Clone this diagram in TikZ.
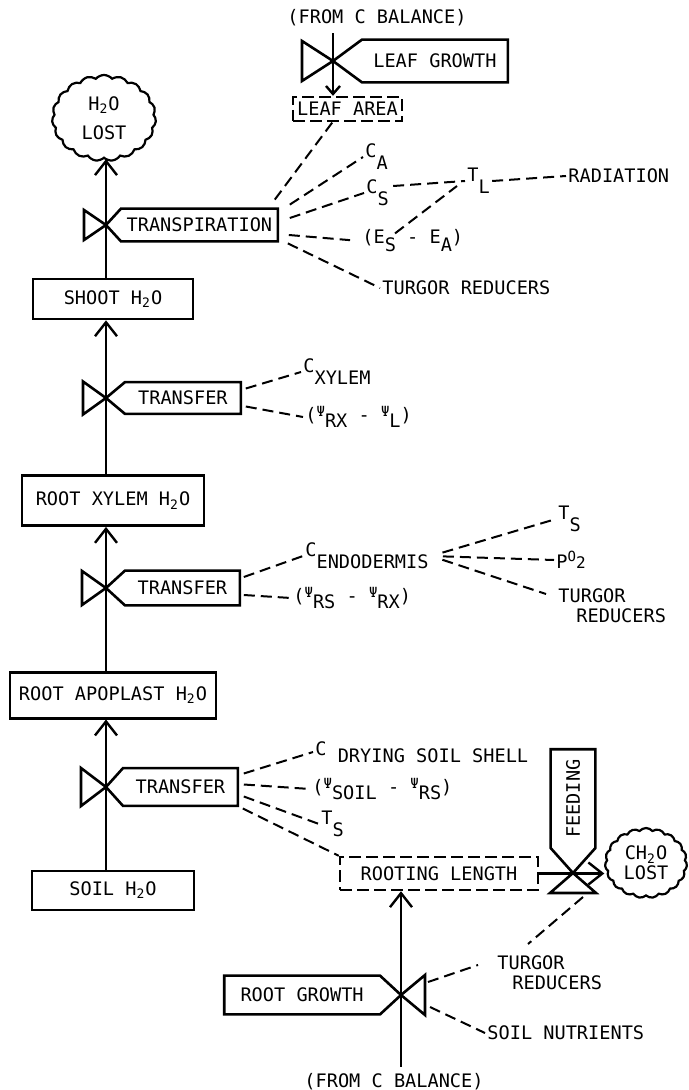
\documentclass[tikz,border=0pt]{standalone}
\usepackage{fontspec}
\newfontfamily\leroy{DejaVu Sans Mono}
\usetikzlibrary{arrows.meta}
\usetikzlibrary{shapes.symbols}
\usetikzlibrary{positioning}
\tikzset{%
  stock/.style = {rectangle, draw, line width=1.3pt, inner sep=0pt},
  aux/.style = {rectangle, draw, line width=1.2pt, dash pattern=on 6pt off 2.5pt, inner sep=0pt},
  rate/.style = {rectangle, inner sep=0pt},
  ratebox/.style = {line width=1.3pt, line join=miter},
  valve/.style = {line width=1.3pt, line join=miter},
  lost/.style = {cloud, cloud puffs=19, cloud puff arc=100, cloud ignores aspect, draw, line width=1.1pt, inner sep=0pt, align=center},
  lbl/.style = {inner sep=1pt, anchor=west},
  flow/.style = {line width=1.2pt, -{Straight Barb[length=7pt, width=11pt]}},
  info/.style = {line width=1pt, dash pattern=on 5.5pt off 3pt}
}
\newcommand{\lowsub}[2]{\raisebox{3pt}{#1}\raisebox{-3pt}{#2}}
\newcommand{\psisub}[1]{\raisebox{2.5pt}{\scriptsize Ψ}\raisebox{-3pt}{#1}}

\begin{document}
\begin{tikzpicture}[x=0.5pt, y=-0.5pt, font=\leroy\fontsize{9.3pt}{10pt}\selectfont]
  \useasboundingbox (0,0) rectangle (689,1090);

  % valve centres
  \coordinate (v1) at (106,225);
  \coordinate (v2) at (106,398);
  \coordinate (v3) at (106,588);
  \coordinate (v4) at (106,787);
  \coordinate (lg) at (333,61);
  \coordinate (v5) at (573,873);
  \coordinate (v6) at (401,995);

  % water stocks
  \node (shoot) [stock, minimum width=80pt, minimum height=20pt] at (113,299) {SHOOT H\textsubscript{2}O};
  \node (rootxyl) [stock, minimum width=91pt, minimum height=25pt, below=77pt of shoot] {ROOT XYLEM H\textsubscript{2}O};
  \node (apoplast) [stock, minimum width=103pt, minimum height=23pt, below=72pt of rootxyl] {ROOT APOPLAST H\textsubscript{2}O};
  \node (soil) [stock, minimum width=81pt, minimum height=19.5pt, below=75pt of apoplast] {SOIL H\textsubscript{2}O};
  \node (h2olost) [lost, minimum width=52pt, minimum height=43pt] at (104,118) {H\textsubscript{2}O\\[4.5pt]LOST};
  \node (ch2olost) [lost, minimum width=41pt, minimum height=35pt] at (646,863) {CH\textsubscript{2}O\\LOST};
  \node (leafarea) [aux, minimum width=54.5pt, minimum height=12pt] at (347.5,109) {LEAF AREA};
  \node (rooting) [aux, minimum width=99pt, minimum height=16.5pt] at (439,873.5) {ROOTING LENGTH};

  % rates
  \node (transp) [rate, minimum width=78pt, minimum height=16pt, right=7.5pt of v1] {TRANSPIRATION};
  \node (xferxyl) [rate, minimum width=57.5pt, minimum height=15.5pt, right=9.5pt of v2] {TRANSFER};
  \node (xferendo) [rate, minimum width=57pt, minimum height=17pt, right=9.5pt of v3] {TRANSFER};
  \node (xfersoil) [rate, minimum width=57pt, minimum height=18.5pt, right=8.5pt of v4] {TRANSFER};
  \node (leafgrowth) [rate, minimum width=72.5pt, minimum height=21pt, right=14.5pt of lg] {LEAF GROWTH};
  \node (rootgrowth) [rate, minimum width=77.5pt, minimum height=19pt, left=10.5pt of v6] {ROOT GROWTH};
  \node (feeding) [rate, minimum width=22pt, minimum height=49pt, above=12.5pt of v5] {\rotatebox{90}{FEEDING}};

  \draw[ratebox] (v1) -- (transp.north west) -- (transp.north east) -- (transp.south east) -- (transp.south west) -- cycle;
  \draw[ratebox] (v2) -- (xferxyl.north west) -- (xferxyl.north east) -- (xferxyl.south east) -- (xferxyl.south west) -- cycle;
  \draw[ratebox] (v3) -- (xferendo.north west) -- (xferendo.north east) -- (xferendo.south east) -- (xferendo.south west) -- cycle;
  \draw[ratebox] (v4) -- (xfersoil.north west) -- (xfersoil.north east) -- (xfersoil.south east) -- (xfersoil.south west) -- cycle;
  \draw[ratebox] (lg) -- (leafgrowth.north west) -- (leafgrowth.north east) -- (leafgrowth.south east) -- (leafgrowth.south west) -- cycle;
  \draw[ratebox] (v6) -- (rootgrowth.north east) -- (rootgrowth.north west) -- (rootgrowth.south west) -- (rootgrowth.south east) -- cycle;
  \draw[ratebox] (v5) -- (feeding.south west) -- (feeding.north west) -- (feeding.north east) -- (feeding.south east) -- cycle;

  % other half of each valve
  \draw[valve] (v1) -- ++(-22,-15) -- ++(0,30) -- cycle;
  \draw[valve] (v2) -- ++(-23,-16.5) -- ++(0,33) -- cycle;
  \draw[valve] (v3) -- ++(-24,-17) -- ++(0,34) -- cycle;
  \draw[valve] (v4) -- ++(-25,-19) -- ++(0,38) -- cycle;
  \draw[valve] (lg) -- ++(-31,-20) -- ++(0,40) -- cycle;
  \draw[valve] (v6) -- ++(24,-20) -- ++(0,40) -- cycle;
  \draw[valve] (v5) -- ++(-23,20) -- ++(46,0) -- cycle;

  % driving variables
  \node (fromtop) at (377,18) {(FROM C BALANCE)};
  \node (frombot) at (394,1082) {(FROM C BALANCE)};
  \node (ca) [lbl] at (363,157) {\lowsub{C}{A}};
  \node (cs) [lbl] at (364,193) {\lowsub{C}{S}};
  \node (tl) [lbl] at (465,181) {\lowsub{T}{L}};
  \node (radiation) [lbl] at (566,176) {RADIATION};
  \node (es) [lbl] at (360,241) {(E\raisebox{-4pt}{S} - E\raisebox{-4pt}{A})};
  \node (turgor1) [lbl] at (380,288) {TURGOR REDUCERS};
  \node (cxylem) [lbl] at (301,372) {\lowsub{C}{XYLEM}};
  \node (psil) [lbl] at (303,417) {(\psisub{RX} - \psisub{L})};
  \node (cendo) [lbl] at (303,556) {\lowsub{C}{ENDODERMIS}};
  \node (psirs) [lbl] at (291,598) {(\psisub{RS} - \psisub{RX})};
  \node (ts1) [lbl] at (556,519) {\lowsub{T}{S}};
  \node (po2) [lbl] at (554,560) {P\raisebox{3.5pt}{\scriptsize O}{\footnotesize 2}};
  \node (turgor2) [lbl, anchor=north west, align=left] at (556,586) {TURGOR\\\hspace*{9pt}REDUCERS};
  \node (cdry) [lbl] at (313,752) {\raisebox{2pt}{C} \raisebox{-1.5pt}{DRYING SOIL SHELL}};
  \node (psisoil) [lbl] at (310,789) {(\psisub{SOIL} - \psisub{RS})};
  \node (ts2) [lbl] at (319,824) {\lowsub{T}{S}};
  \node (turgor3) [lbl, anchor=north west, align=left] at (495,953) {TURGOR\\\hspace*{7.5pt}REDUCERS};
  \node (soilnut) [lbl] at (485,1033) {SOIL NUTRIENTS};

  % material flows
  \draw[flow] (shoot.north -| v1) -- (h2olost.south -| v1);
  \draw[flow] (rootxyl.north -| v2) -- (shoot.south -| v2);
  \draw[flow] (apoplast.north -| v3) -- (rootxyl.south -| v3);
  \draw[flow] (soil.north -| v4) -- (apoplast.south -| v4);
  \draw[flow, -{Straight Barb[length=4pt, width=7pt]}] (fromtop.south -| lg) -- (leafarea.north -| lg);
  \draw[flow] (frombot.north -| v6) -- (rooting.south -| v6);
  \draw[flow] (rooting.east) -- (rooting.east -| ch2olost.west);

  % information links
  \draw[info] ([shift={(-3,-9)}]transp.north east) -- ([shift={(-15,0)}]leafarea.south);
  \draw[info] ([shift={(12,-4)}]transp.north east) -- (ca.west);
  \draw[info] ([shift={(12,-7)}]transp.east) -- (cs.west);
  \draw[info, shorten >=5pt] ([shift={(11,10)}]transp.east) -- (es.west);
  \draw[info] ([shift={(10,2)}]transp.south east) -- (turgor1.west);
  \draw[info] ([shift={(2,-7)}]cs.east) -- (tl.west);
  \draw[info] (tl.east) -- (radiation.west);
  \draw[info] ([shift={(35,6)}]es.north west) -- ([shift={(-8,5)}]tl.west);

  \draw[info] ([shift={(5,-9.5)}]xferxyl.east) -- (cxylem.west);
  \draw[info] ([shift={(5,8.5)}]xferxyl.east) -- (psil.west);

  \draw[info] ([shift={(4,-11)}]xferendo.east) -- (cendo.west);
  \draw[info] ([shift={(4,7)}]xferendo.east) -- (psirs.west);
  \draw[info, shorten <=6pt] (cendo.east) -- (ts1.west);
  \draw[info, shorten <=6pt] (cendo.east) -- (po2.west);
  \draw[info, shorten <=6pt] (cendo.east) -- ([shift={(-10,8)}]turgor2.north west);

  \draw[info] ([shift={(6,-13.5)}]xfersoil.east) -- (cdry.west);
  \draw[info] ([shift={(6,-2.5)}]xfersoil.east) -- (psisoil.west);
  \draw[info] ([shift={(6,9.5)}]xfersoil.east) -- (ts2.west);
  \draw[info] ([shift={(5,21.5)}]xfersoil.east) -- (rooting.north west);

  \draw[info] ([shift={(27,-13)}]v6) -- ([shift={(-17,12)}]turgor3.north west);
  \draw[info] ([shift={(29,12)}]v6) -- (soilnut.west);
  \draw[info] ([shift={(10,24)}]v5) -- ([shift={(33,-9)}]turgor3.north west);
\end{tikzpicture}
\end{document}
